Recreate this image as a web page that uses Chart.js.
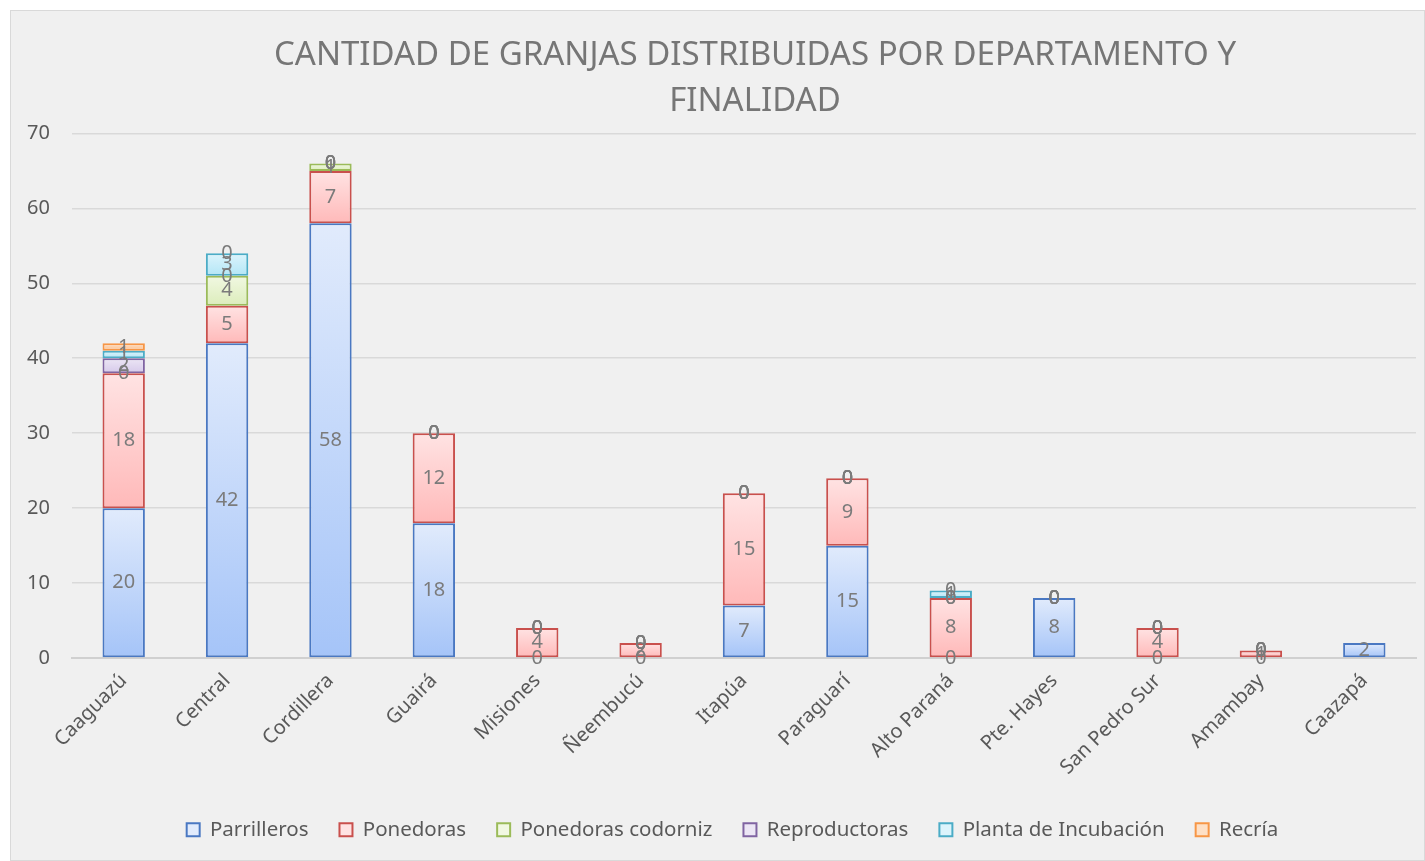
<!DOCTYPE html>
<html>
<head>
<meta charset="utf-8">
<script src="https://cdn.jsdelivr.net/npm/chart.js@4"></script>
<style>
  html, body { margin: 0; padding: 0; background: #ffffff; }
  .chart-box {
    position: absolute; left: 10px; top: 10px;
    width: 1415px; height: 851px;
    background: #f0f0f0; border: 1px solid #d9d9d9; box-sizing: border-box;
  }
</style>
</head>
<body>
<div class="chart-box"><canvas id="granjas"></canvas></div>
<script>
// Datos del gráfico
const departamentos = ['Caaguazú', 'Central', 'Cordillera', 'Guairá', 'Misiones', 'Ñeembucú',
  'Itapúa', 'Paraguarí', 'Alto Paraná', 'Pte. Hayes', 'San Pedro Sur', 'Amambay', 'Caazapá'];
const parrilleros   = [20, 42, 58, 18, 0, 0, 7, 15, 0, 8, 0, 0, 2];
const ponedoras     = [18, 5, 7, 12, 4, 2, 15, 9, 8, 0, 4, 1, null];
const codorniz      = [0, 4, 1, 0, 0, 0, 0, 0, 0, 0, 0, 0, null];
const reproductoras = [2, 0, 0, 0, 0, 0, 0, 0, 0, 0, 0, 0, null];
const incubacion    = [1, 3, 0, 0, 0, 0, 0, 0, 1, 0, 0, 0, null];
const recria        = [1, 0, 0, 0, 0, 0, 0, 0, 0, 0, 0, 0, null];
const yTicks = [0, 10, 20, 30, 40, 50, 60, 70];

const FONT = 'Noto Sans';
const GRIS = '#595959';

// colores: borde, degradado arriba, degradado abajo
const series = [
  { label: 'Parrilleros', data: parrilleros, border: '#4a78c2', top: '#e1ebfc', bottom: '#a5c4f8' },
  { label: 'Ponedoras', data: ponedoras, border: '#c9504d', top: '#ffe3e3', bottom: '#ffb9b9' },
  { label: 'Ponedoras codorniz', data: codorniz, border: '#9bbb59', top: '#f1f8e2', bottom: '#dcedbb' },
  { label: 'Reproductoras', data: reproductoras, border: '#8064a2', top: '#ece6f5', bottom: '#d6c9ea' },
  { label: 'Planta de Incubación', data: incubacion, border: '#4bacc6', top: '#dcf4fc', bottom: '#b3e6f6' },
  { label: 'Recría', data: recria, border: '#f79646', top: '#fee0c6', bottom: '#fcc08f' }
];

// degradado por barra (como en Excel)
const degradado = {
  id: 'degradado',
  beforeDatasetsDraw(chart) {
    const ctx = chart.ctx;
    chart.data.datasets.forEach((ds, i) => {
      const meta = chart.getDatasetMeta(i);
      meta.data.forEach(el => {
        const top = Math.min(el.y, el.base), bot = Math.max(el.y, el.base);
        if (bot - top < 0.5) return;
        const g = ctx.createLinearGradient(0, top, 0, bot);
        g.addColorStop(0, ds.topColor);
        g.addColorStop(1, ds.bottomColor);
        el.options = Object.assign({}, el.options, { backgroundColor: g });
      });
    });
  }
};

// etiquetas de valores centradas en cada segmento
const etiquetas = {
  id: 'etiquetas',
  afterDatasetsDraw(chart) {
    const ctx = chart.ctx;
    ctx.save();
    ctx.font = '20px "' + FONT + '"';
    ctx.fillStyle = '#7b7b7b';
    ctx.textAlign = 'center';
    ctx.textBaseline = 'middle';
    chart.data.datasets.forEach((ds, i) => {
      const meta = chart.getDatasetMeta(i);
      meta.data.forEach((el, j) => {
        const v = ds.data[j];
        if (v === null || v === undefined) return;
        ctx.fillText(String(v), el.x, (el.y + el.base) / 2);
      });
    });
    ctx.restore();
  }
};

// pequeño corrimiento horizontal de título y leyenda
const corrimiento = {
  id: 'corrimiento',
  afterLayout(chart) {
    if (chart.titleBlock) { chart.titleBlock.left += 11; chart.titleBlock.right += 11; }
    if (chart.legend) { chart.legend.left += 17; chart.legend.right += 17; }
  }
};

new Chart(document.getElementById('granjas'), {
  type: 'bar',
  data: {
    labels: departamentos,
    datasets: series.map(s => ({
      label: s.label,
      data: s.data,
      backgroundColor: s.top,
      borderColor: s.border,
      borderWidth: 2,
      borderSkipped: false,
      topColor: s.top,
      bottomColor: s.bottom,
      categoryPercentage: 0.82,
      barPercentage: 0.5
    }))
  },
  options: {
    responsive: true,
    maintainAspectRatio: false,
    animation: false,
    layout: { padding: { left: 4, right: 8, top: 0, bottom: 10 } },
    plugins: {
      title: {
        display: true,
        fullSize: false,
        text: ['CANTIDAD DE GRANJAS DISTRIBUIDAS POR DEPARTAMENTO Y', 'FINALIDAD'],
        color: '#767676',
        font: { family: FONT, size: 33, weight: 'normal', lineHeight: 1.4 },
        padding: { top: 21, bottom: 9 }
      },
      legend: {
        position: 'bottom',
        labels: {
          color: GRIS,
          font: { family: FONT, size: 20.5 },
          boxWidth: 13,
          boxHeight: 13,
          padding: 31
        }
      },
      tooltip: { enabled: false }
    },
    scales: {
      x: {
        stacked: true,
        grid: { display: false },
        border: { color: '#d0d0d0', width: 2 },
        afterFit(scale) {
          scale.paddingLeft = 0;
          scale.height += 6;
        },
        ticks: {
          color: GRIS,
          font: { family: FONT, size: 20 },
          minRotation: 45,
          maxRotation: 45
        }
      },
      y: {
        stacked: true,
        min: 0,
        max: 70,
        afterBuildTicks(axis) { axis.ticks = yTicks.map(v => ({ value: v })); },
        afterFit(axis) { axis.width = 57; },
        grid: { color: '#d9d9d9', lineWidth: 1.5, drawTicks: false },
        border: { display: false },
        ticks: {
          color: GRIS,
          font: { family: FONT, size: 20 },
          padding: 22
        }
      }
    }
  },
  plugins: [degradado, etiquetas, corrimiento]
});
</script>
</body>
</html>
